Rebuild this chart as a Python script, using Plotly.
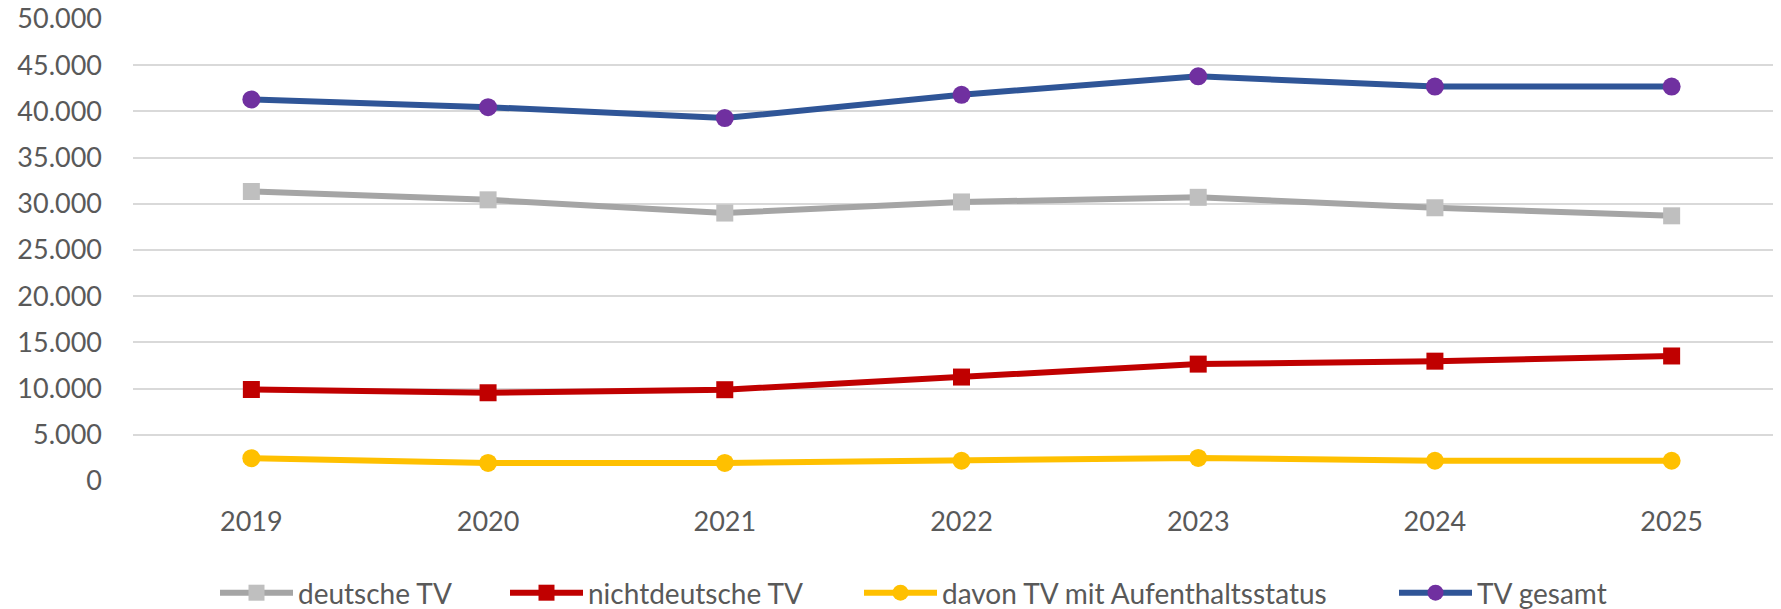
import plotly.graph_objects as go

years = ["2019", "2020", "2021", "2022", "2023", "2024", "2025"]
deutsche_tv = [31330, 30430, 29000, 30200, 30700, 29570, 28700]
nichtdeutsche_tv = [9900, 9550, 9880, 11250, 12650, 12970, 13530]
aufenthaltsstatus_tv = [2470, 1950, 1950, 2190, 2500, 2190, 2190]
tv_gesamt = [41300, 40460, 39280, 41800, 43800, 42690, 42690]
y_ticks = [0, 5000, 10000, 15000, 20000, 25000, 30000, 35000, 40000, 45000, 50000]
y_tick_labels = ["0", "5.000", "10.000", "15.000", "20.000", "25.000", "30.000",
                 "35.000", "40.000", "45.000", "50.000"]

FONT = "Lato"
W, H = 1773, 601
series = [
    ("deutsche TV", deutsche_tv, "#A5A5A5", "#BFBFBF", "square", 207),
    ("nichtdeutsche TV", nichtdeutsche_tv, "#C00000", "#C00000", "square", 497),
    ("davon TV mit Aufenthaltsstatus", aufenthaltsstatus_tv, "#FFC000", "#FFC000", "circle", 851),
    ("TV gesamt", tv_gesamt, "#2F5597", "#7030A0", "circle", 1386),
]

fig = go.Figure()
legends = {}
for i, (name, vals, lc, mc, sym, lx) in enumerate(series):
    key = "legend" if i == 0 else f"legend{i+1}"
    fig.add_trace(go.Scatter(
        x=years, y=vals, name=name, mode="lines+markers",
        line=dict(color=lc, width=6),
        marker=dict(color=mc, symbol=sym, size=18 if sym == "circle" else 17,
                    line=dict(width=0)),
        legend=key,
    ))
    legends[key] = dict(orientation="h", xref="container", yref="container",
                        x=lx / W, y=1 - 585 / H, xanchor="left", yanchor="middle",
                        font=dict(family=FONT, size=28, color="#595959"),
                        itemwidth=73, bgcolor="rgba(0,0,0,0)")

fig.update_layout(
    width=W, height=H,
    margin=dict(l=125, r=0, t=11, b=128, autoexpand=False),
    paper_bgcolor="white", plot_bgcolor="white",
    font=dict(family=FONT, size=27, color="#595959"),
    showlegend=True,
    xaxis=dict(type="category", range=[-0.5, 6.462], showgrid=False,
               showline=False, zeroline=False, ticks="", automargin=False,
               ticklabelstandoff=22, ticklabeloverflow="allow",
               tickfont=dict(family=FONT, size=27, color="#595959")),
    yaxis=dict(range=[0, 50000], tickvals=y_ticks, ticktext=y_tick_labels,
               showgrid=True, gridcolor="#D9D9D9", gridwidth=2,
               zeroline=False, showline=False, ticks="", automargin=False,
               ticklabelstandoff=30, ticklabeloverflow="allow",
               tickfont=dict(family=FONT, size=27, color="#595959")),
    **legends,
)

fig.write_html("out.html")
